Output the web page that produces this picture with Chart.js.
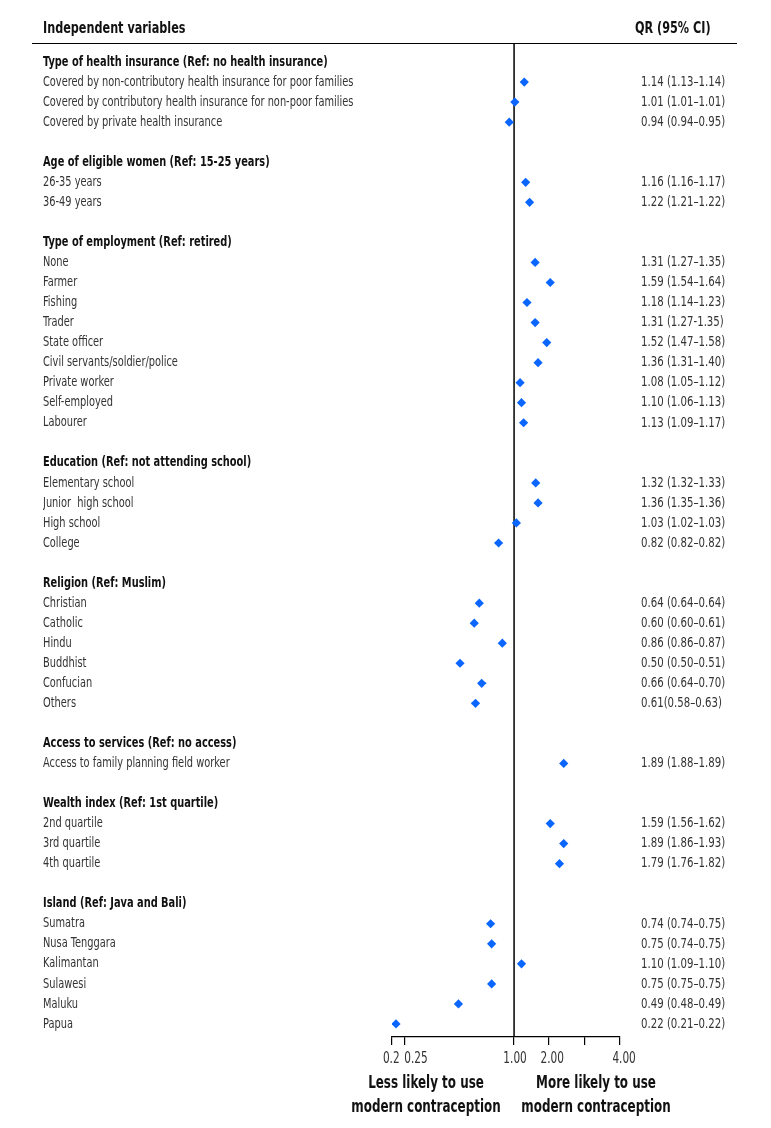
<!DOCTYPE html>
<html><head><meta charset="utf-8">
<script src="https://cdn.jsdelivr.net/npm/chart.js@4.4.1/dist/chart.umd.min.js"></script>
<style>html,body{margin:0;padding:0;background:#fff}#wrap{width:771px;height:1128px;position:relative}</style>
</head><body><div id="wrap"><canvas id="c" width="771" height="1128"></canvas></div>
<script>
const rowLabels = [
'Type of health insurance (Ref: no health insurance)',
'Covered by non-contributory health insurance for poor families',
'Covered by contributory health insurance for non-poor families',
'Covered by private health insurance',
'',
'Age of eligible women (Ref: 15-25 years)',
'26-35 years','36-49 years',
'',
'Type of employment (Ref: retired)',
'None','Farmer','Fishing','Trader','State officer','Civil servants/soldier/police','Private worker','Self-employed','Labourer',
'',
'Education (Ref: not attending school)',
'Elementary school','Junior  high school','High school','College',
'',
'Religion (Ref: Muslim)',
'Christian','Catholic','Hindu','Buddhist','Confucian','Others',
'',
'Access to services (Ref: no access)',
'Access to family planning field worker',
'',
'Wealth index (Ref: 1st quartile)',
'2nd quartile','3rd quartile','4th quartile',
'',
'Island (Ref: Java and Bali)',
'Sumatra','Nusa Tenggara','Kalimantan','Sulawesi','Maluku','Papua'];
const headingRows = [0,5,9,20,26,34,37,42];
const qr = [null,1.14,1.01,0.94,null,null,1.16,1.22,null,null,1.31,1.59,1.18,1.31,1.52,1.36,1.08,1.10,1.13,null,null,1.32,1.36,1.03,0.82,null,null,0.64,0.60,0.86,0.50,0.66,0.61,null,null,1.89,null,null,1.59,1.89,1.79,null,null,0.74,0.75,1.10,0.75,0.49,0.22];
const ciLow = [null,1.13,1.01,0.94,null,null,1.16,1.21,null,null,1.27,1.54,1.14,1.27,1.47,1.31,1.05,1.06,1.09,null,null,1.32,1.35,1.02,0.82,null,null,0.64,0.60,0.86,0.50,0.64,0.58,null,null,1.88,null,null,1.56,1.86,1.76,null,null,0.74,0.74,1.09,0.75,0.48,0.21];
const ciHigh = [null,1.14,1.01,0.95,null,null,1.17,1.22,null,null,1.35,1.64,1.23,1.35,1.58,1.40,1.12,1.13,1.17,null,null,1.33,1.36,1.03,0.82,null,null,0.64,0.61,0.87,0.51,0.70,0.63,null,null,1.89,null,null,1.62,1.93,1.82,null,null,0.75,0.75,1.10,0.75,0.49,0.22];
const qrLabels = ['','1.14 (1.13–1.14)','1.01 (1.01–1.01)','0.94 (0.94–0.95)','','','1.16 (1.16–1.17)','1.22 (1.21–1.22)','','',
'1.31 (1.27–1.35)','1.59 (1.54–1.64)','1.18 (1.14–1.23)','1.31 (1.27-1.35)','1.52 (1.47–1.58)','1.36 (1.31–1.40)','1.08 (1.05–1.12)','1.10 (1.06–1.13)','1.13 (1.09–1.17)','','',
'1.32 (1.32–1.33)','1.36 (1.35–1.36)','1.03 (1.02–1.03)','0.82 (0.82–0.82)','','',
'0.64 (0.64–0.64)','0.60 (0.60–0.61)','0.86 (0.86–0.87)','0.50 (0.50–0.51)','0.66 (0.64–0.70)','0.61(0.58–0.63)','','',
'1.89 (1.88–1.89)','','','1.59 (1.56–1.62)','1.89 (1.86–1.93)','1.79 (1.76–1.82)','','',
'0.74 (0.74–0.75)','0.75 (0.74–0.75)','1.10 (1.09–1.10)','0.75 (0.75–0.75)','0.49 (0.48–0.49)','0.22 (0.21–0.22)'];
// axis range and tick marks (as printed in the figure)
const xMin = 0.209, xMax = 3.89;
const xTickValues = [0.209, 0.247, 1, 1.566, 2.485, 3.89];
// where the printed tick labels sit
const xLabelValues = [0.207, 0.284, 1.013, 1.63, 4.10];
const xTickLabels = ['0.2','0.25','1.00','2.00','4.00'];
const headerLeft = 'Independent variables';
const headerRight = 'QR (95% CI)';
const footLeft = ['Less likely to use','modern contraception'];
const footRight = ['More likely to use','modern contraception'];

const FONT = "'DejaVu Sans Condensed','DejaVu Sans',sans-serif";
const BLUE = '#0a66ff';
const SX = 0.78; // horizontal condensing of all text (condensed typeface look)

const _fill = CanvasRenderingContext2D.prototype.fillText;
CanvasRenderingContext2D.prototype.fillText = function(t, x, y, mw){
  const w = this.measureText(String(t)).width * SX;
  return _fill.call(this, t, x, y, (mw !== undefined && mw !== null) ? Math.min(mw, w) : w);
};

const points = [];
const ciLine = [];
qr.forEach((v,i)=>{
  if (v==null) return;
  points.push({x:v,y:i});
  ciLine.push({x:ciLow[i],y:i},{x:ciHigh[i],y:i},{x:NaN,y:NaN});
});

const rowTicks = (scale)=>{ scale.ticks = rowLabels.map((_,i)=>({value:i})); };

const decor = {
  id:'decor',
  beforeDatasetsDraw(chart){
    const {ctx, chartArea:a, scales:{x}} = chart;
    const x1 = x.getPixelForValue(1);
    ctx.save();
    ctx.strokeStyle = '#000'; ctx.lineWidth = 1.5;
    ctx.beginPath(); ctx.moveTo(x1, a.top); ctx.lineTo(x1, a.bottom); ctx.stroke();
    ctx.restore();
  },
  afterDraw(chart){
    const {ctx} = chart;
    ctx.save();
    ctx.strokeStyle = '#000'; ctx.lineWidth = 1.2;
    ctx.beginPath(); ctx.moveTo(32, 43.5); ctx.lineTo(737, 43.5); ctx.stroke();
    ctx.fillStyle = '#111';
    ctx.textBaseline = 'alphabetic';
    ctx.font = "bold 16px " + FONT;
    ctx.textAlign = 'left';
    ctx.fillText(headerLeft, 43, 33);
    ctx.fillText(headerRight, 635, 33);
    ctx.font = "bold 17px " + FONT;
    ctx.textAlign = 'center';
    ctx.fillText(footLeft[0], 426, 1088);
    ctx.fillText(footLeft[1], 426, 1112);
    ctx.fillText(footRight[0], 596, 1088);
    ctx.fillText(footRight[1], 596, 1112);
    ctx.restore();
  }
};

new Chart(document.getElementById('c'), {
  type:'scatter',
  data:{datasets:[
    {data:ciLine, showLine:true, spanGaps:false, borderColor:BLUE, borderWidth:1.6, pointRadius:0, pointHoverRadius:0},
    {data:points, pointStyle:'rectRot', pointRadius:4.6, pointBackgroundColor:BLUE, pointBorderColor:BLUE, pointBorderWidth:0}
  ]},
  options:{
    responsive:false, animation:false, devicePixelRatio:1,
    layout:{padding:{left:43, top:44, right:0, bottom:0}},
    plugins:{legend:{display:false}, tooltip:{enabled:false}},
    scales:{
      x:{type:'logarithmic', min:xMin, max:xMax,
        afterBuildTicks:(s)=>{ s.ticks = xTickValues.map(v=>({value:v})); },
        afterFit:(s)=>{ s.height = 8; },
        ticks:{autoSkip:false, maxRotation:0, padding:0, callback:()=>''},
        grid:{drawOnChartArea:false, drawTicks:true, tickLength:8, color:'#000', lineWidth:1.2},
        border:{display:true, color:'#000', width:1.2}
      },
      xl:{type:'logarithmic', position:'bottom', min:xMin, max:xMax,
        afterBuildTicks:(s)=>{ s.ticks = xLabelValues.map(v=>({value:v})); },
        afterFit:(s)=>{ s.height = 83; },
        ticks:{autoSkip:false, maxRotation:0, padding:-3, color:'#333', font:{family:FONT, size:15},
          callback:(v,i)=>xTickLabels[i]},
        grid:{display:false}, border:{display:false}
      },
      y:{type:'linear', position:'left', reverse:true, min:-0.9, max:48.65,
        afterBuildTicks:rowTicks,
        afterFit:(s)=>{ s.width = 349; },
        grid:{display:false}, border:{display:false},
        ticks:{autoSkip:false, crossAlign:'far', padding:0,
          color:(c)=>headingRows.includes(c.index)?'#111':'#333',
          font:(c)=>({family:FONT, size:14, weight: headingRows.includes(c.index)?'bold':'normal'}),
          callback:(v,i)=>rowLabels[i]}
      },
      y2:{type:'linear', position:'right', reverse:true, min:-0.9, max:48.65,
        afterBuildTicks:rowTicks,
        afterFit:(s)=>{ s.width = 151; },
        grid:{display:false}, border:{display:false},
        ticks:{autoSkip:false, crossAlign:'near', padding:13, color:'#333',
          font:{family:FONT, size:14.5},
          callback:(v,i)=>qrLabels[i]}
      }
    }
  },
  plugins:[decor]
});
</script></body></html>
